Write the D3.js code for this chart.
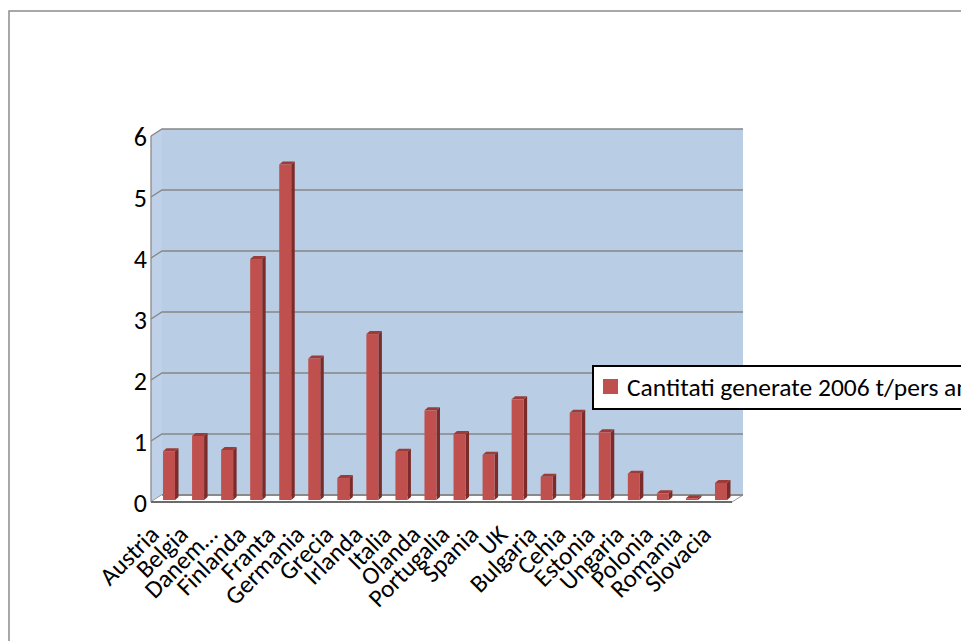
<!DOCTYPE html>
<html>
<head>
<meta charset="utf-8">
<script src="https://cdn.jsdelivr.net/npm/d3@7"></script>
<style>
  html, body { margin: 0; padding: 0; background: #fff; }
  svg { display: block; }
  text { font-family: Carlito, "Open Sans", sans-serif; fill: #000; }
</style>
</head>
<body>
<script>
// Quantities generated per person per year, 2006
const categories = ["Austria", "Belgia", "Danem…", "Finlanda", "Franta", "Germania", "Grecia",
  "Irlanda", "Italia", "Olanda", "Portugalia", "Spania", "UK", "Bulgaria", "Cehia",
  "Estonia", "Ungaria", "Polonia", "Romania", "Slovacia"];
const values = [0.80, 1.05, 0.82, 3.95, 5.50, 2.32, 0.36, 2.72, 0.79, 1.47, 1.08, 0.74,
  1.65, 0.38, 1.43, 1.11, 0.43, 0.11, 0.03, 0.28];
const yTicks = [0, 1, 2, 3, 4, 5, 6];
const seriesName = "Cantitati generate 2006 t/pers an";

const W = 961, H = 641;
const svg = d3.select("body").append("svg").attr("width", W).attr("height", H);

// back wall plane
const wall = { left: 162, right: 743, top: 129, bottom: 495 };
// depth vector from the back wall to the front edge of the floor
const depth = { dx: -11, dy: 7 };

const x = d3.scaleBand().domain(categories).range([wall.left, wall.right]);
const y = d3.scaleLinear().domain([0, 6]).range([wall.bottom, wall.top]);

// chart area border
svg.append("rect").attr("x", 9).attr("y", 11).attr("width", W + 20).attr("height", H + 20)
  .attr("fill", "#fff").attr("stroke", "#8c8c8c").attr("stroke-width", 1.5);

// side wall (left)
const sx0 = wall.left + depth.dx, sy = depth.dy;
svg.append("path")
  .attr("d", `M${sx0},${y(6) + sy}L${wall.left},${y(6)}L${wall.left},${y(0)}L${sx0},${y(0) + sy}Z`)
  .attr("fill", "#bed1e8");

// back wall
svg.append("rect").attr("x", wall.left).attr("y", wall.top)
  .attr("width", wall.right - wall.left).attr("height", wall.bottom - wall.top)
  .attr("fill", "#b9cde5");

// gridlines on back and side walls
const grid = svg.append("g").attr("stroke", "#868686").attr("stroke-width", 1.3).attr("fill", "none");
yTicks.forEach(t => {
  grid.append("path")
    .attr("d", `M${sx0},${y(t) + sy}L${wall.left},${y(t)}L${wall.right},${y(t)}`);
});

// floor
svg.append("path")
  .attr("d", `M${wall.left},${y(0)}L${wall.right},${y(0)}L${wall.right + depth.dx},${y(0) + sy}L${sx0},${y(0) + sy}Z`)
  .attr("fill", "#ffffff");
svg.append("path")
  .attr("d", `M${wall.right},${y(0)}L${wall.right + depth.dx},${y(0) + sy}`)
  .attr("stroke", "#9a9a9a").attr("stroke-width", 1).attr("fill", "none");
svg.append("line").attr("x1", wall.left).attr("x2", wall.right)
  .attr("y1", y(0)).attr("y2", y(0)).attr("stroke", "#8a8a8a").attr("stroke-width", 2);
svg.append("line").attr("x1", sx0).attr("x2", wall.right + depth.dx)
  .attr("y1", y(0) + sy).attr("y2", y(0) + sy).attr("stroke", "#3a3a3a").attr("stroke-width", 1.5);

// vertical axis line on the front-left edge
svg.append("line").attr("x1", sx0).attr("x2", sx0)
  .attr("y1", y(6) + sy).attr("y2", y(0) + sy)
  .attr("stroke", "#8a8a8a").attr("stroke-width", 1.3);

// y tick labels
svg.append("g").selectAll("text").data(yTicks).join("text")
  .attr("x", sx0 - 4).attr("y", d => y(d) + sy + 1)
  .attr("text-anchor", "end").attr("dominant-baseline", "central")
  .attr("font-size", 26).text(d => d);

// 3D bars
const barW = 12;
const bOff = { dx: -7.5, dy: 5 };   // front face offset from the back wall
const bDepth = { dx: 3.5, dy: -3 }; // front face to back face
const bars = svg.append("g");
categories.forEach((c, i) => {
  const v = values[i];
  const cx = x(c) + x.bandwidth() / 2 + bOff.dx;
  const x0 = cx - barW / 2, x1 = cx + barW / 2;
  const yb = y(0) + bOff.dy, yt = y(v) + bOff.dy;
  const g = bars.append("g");
  // right side
  g.append("path")
    .attr("d", `M${x1},${yt}L${x1 + bDepth.dx},${yt + bDepth.dy}L${x1 + bDepth.dx},${yb + bDepth.dy}L${x1},${yb}Z`)
    .attr("fill", "#7b2b29");
  // top
  g.append("path")
    .attr("d", `M${x0},${yt}L${x0 + bDepth.dx},${yt + bDepth.dy}L${x1 + bDepth.dx},${yt + bDepth.dy}L${x1},${yt}Z`)
    .attr("fill", "#9c3b38");
  // front
  g.append("rect").attr("x", x0).attr("y", yt).attr("width", barW).attr("height", yb - yt)
    .attr("fill", "#c0504d");
});

// category labels, rotated
svg.append("g").selectAll("text").data(categories).join("text")
  .attr("transform", d => `translate(${x(d) + x.bandwidth() / 2 + depth.dx - 5},${y(0) + sy + 34}) rotate(-45)`)
  .attr("text-anchor", "end")
  .attr("font-size", 25)
  .text(d => d);

// legend
const lg = svg.append("g");
lg.append("rect").attr("x", 593).attr("y", 366).attr("width", 400).attr("height", 43)
  .attr("fill", "#fff").attr("stroke", "#000").attr("stroke-width", 2);
lg.append("rect").attr("x", 603).attr("y", 379).attr("width", 15).attr("height", 15)
  .attr("fill", "#c0504d");
lg.append("text").attr("x", 627).attr("y", 396).attr("font-size", 25.5).text(seriesName);
</script>
</body>
</html>
